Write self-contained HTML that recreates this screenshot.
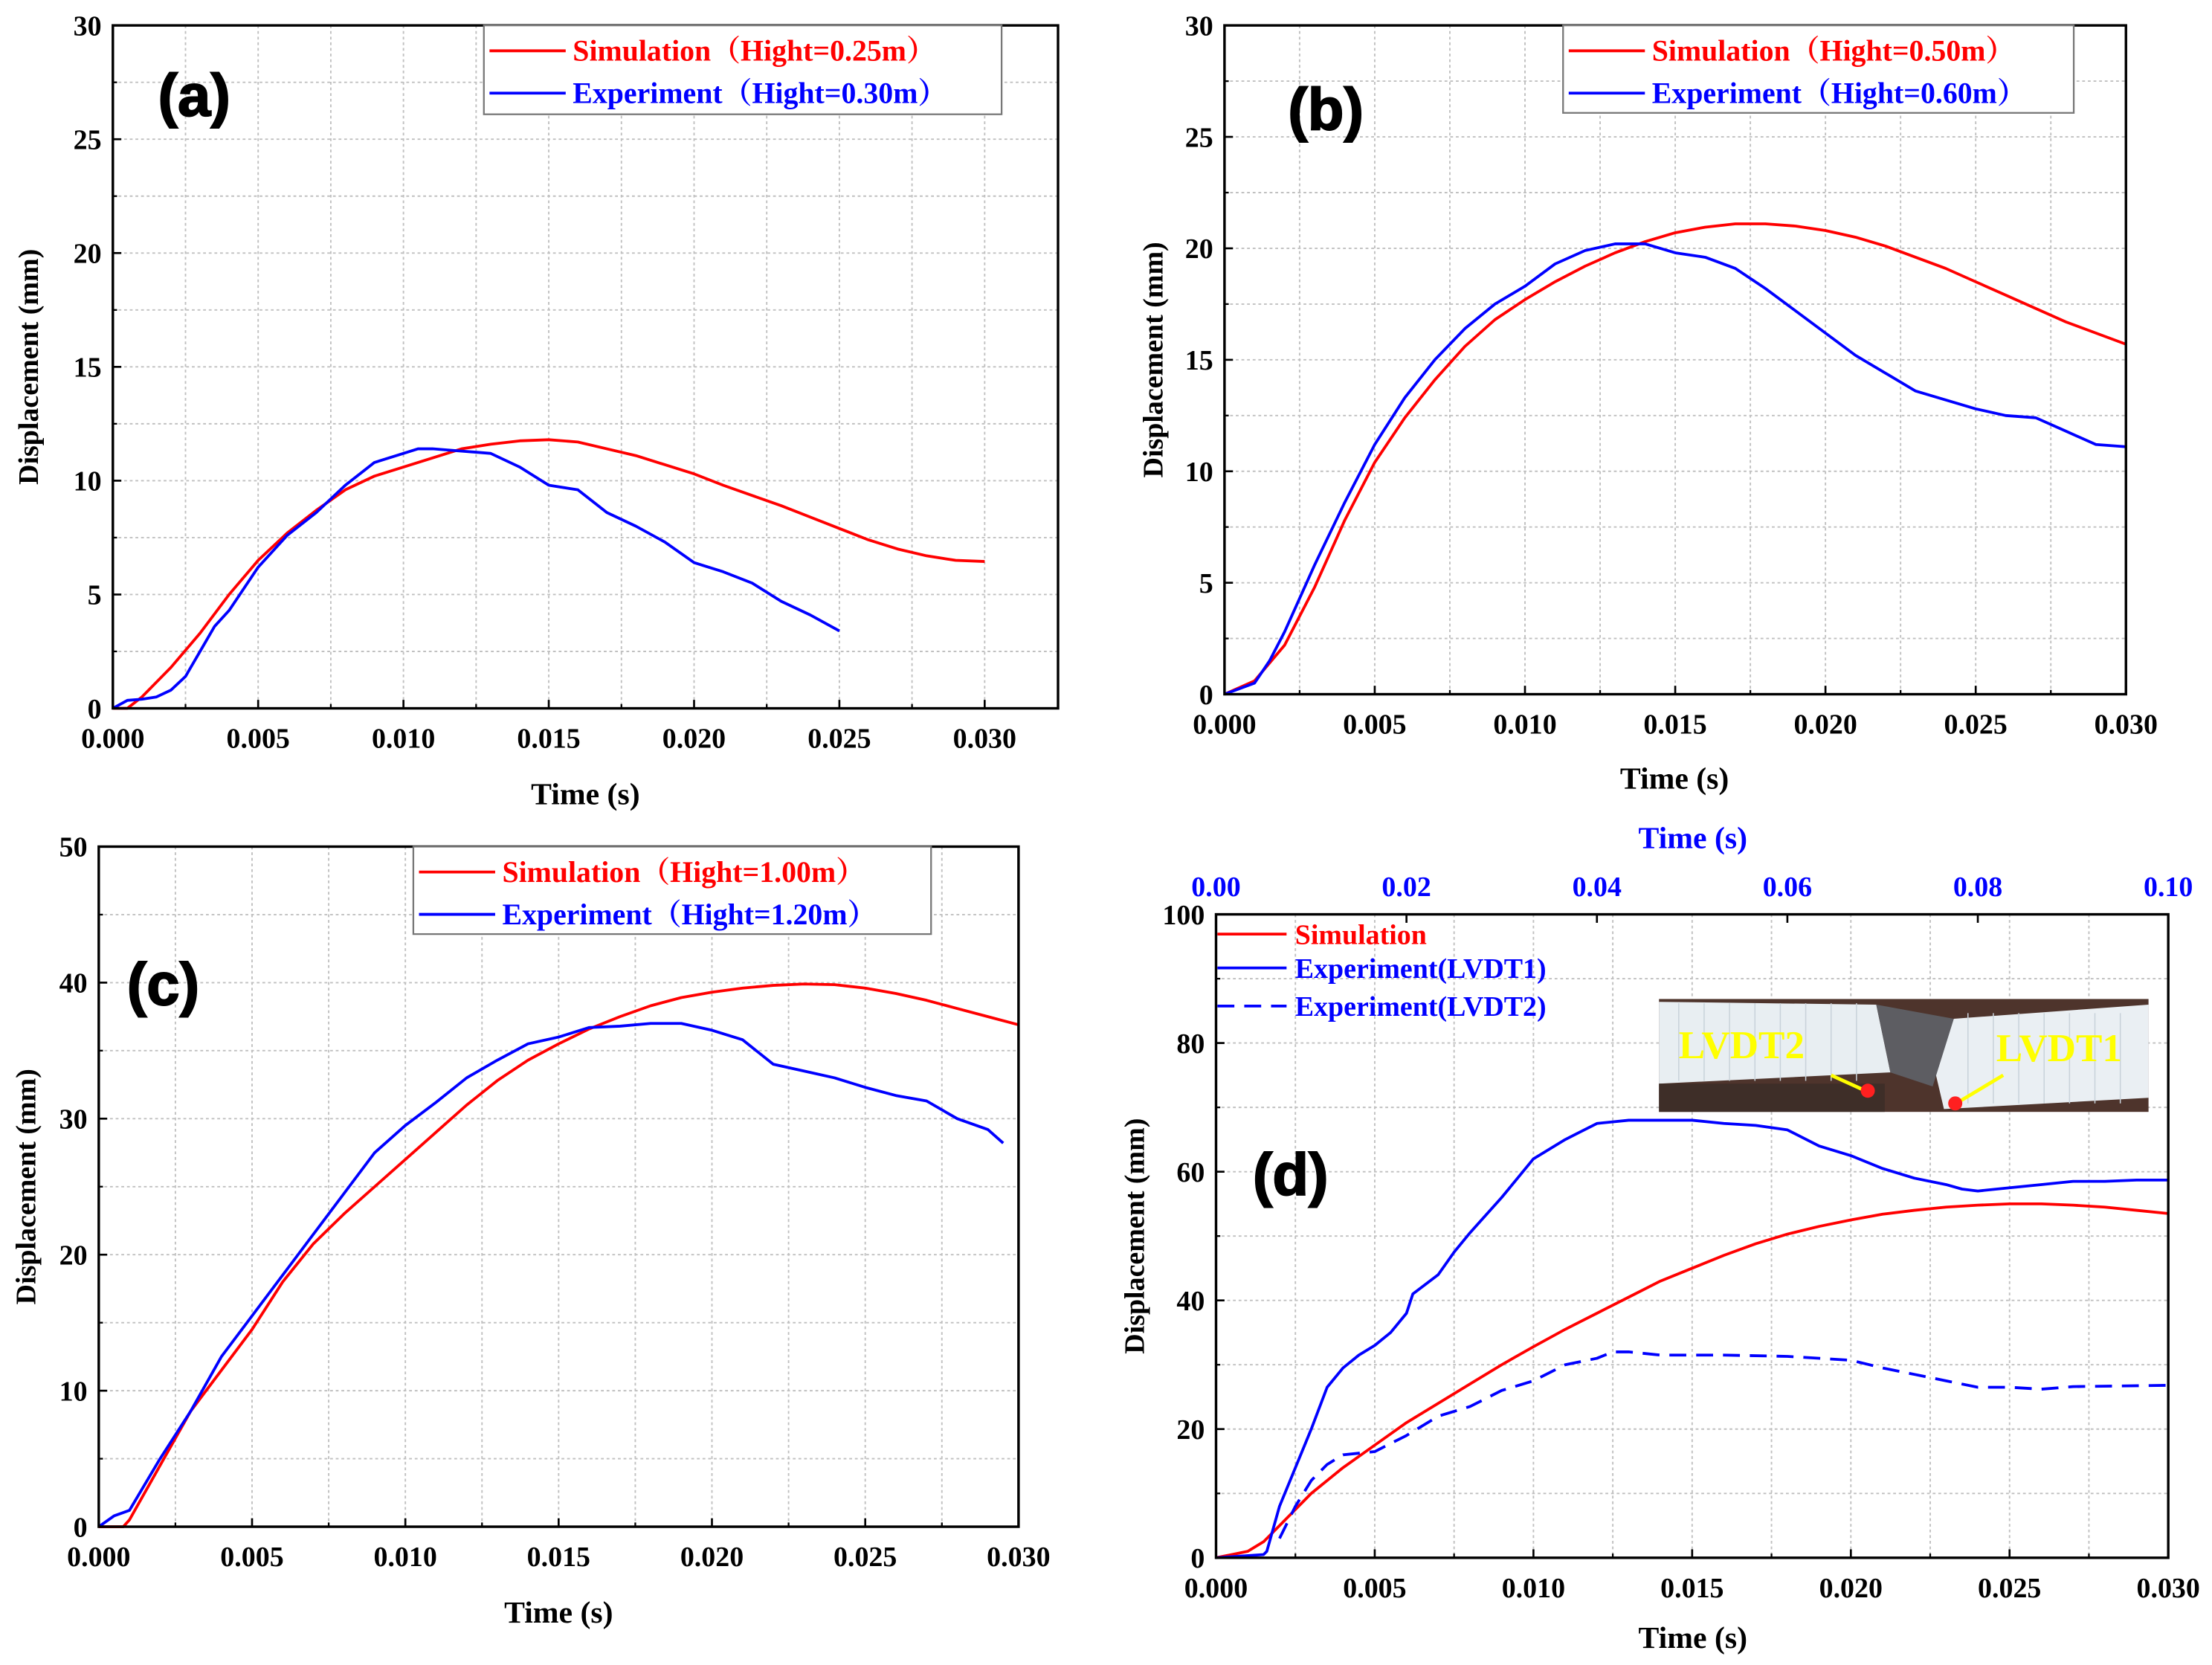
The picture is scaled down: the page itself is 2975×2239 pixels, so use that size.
<!DOCTYPE html>
<html><head><meta charset="utf-8">
<style>
html,body{margin:0;padding:0;background:#fff;}
svg{display:block;}
text{font-family:"Liberation Serif",serif;font-weight:bold;}
</style></head>
<body>
<svg id="fig" width="2975" height="2239" viewBox="0 0 1568 1180" preserveAspectRatio="none" xmlns="http://www.w3.org/2000/svg"></svg>
<script>
// ---------- data ----------
const aSimT=[0,0.0005,0.001,0.002,0.003,0.004,0.005,0.006,0.007,0.008,0.009,0.010,0.011,0.012,0.013,0.014,0.015,0.016,0.017,0.018,0.019,0.020,0.021,0.022,0.023,0.024,0.025,0.026,0.027,0.028,0.029,0.030];
const aSimY=[0,0,0.5,1.8,3.3,5,6.5,7.7,8.7,9.6,10.2,10.6,11,11.4,11.6,11.75,11.8,11.7,11.4,11.1,10.7,10.3,9.8,9.35,8.9,8.4,7.9,7.4,7,6.7,6.5,6.45];
const aExpT=[0,0.0005,0.001,0.0015,0.002,0.0025,0.003,0.0035,0.004,0.005,0.006,0.007,0.008,0.009,0.010,0.0105,0.011,0.012,0.013,0.014,0.015,0.016,0.017,0.018,0.019,0.020,0.021,0.022,0.023,0.024,0.025];
const aExpY=[0,0.35,0.4,0.5,0.8,1.4,2.5,3.6,4.3,6.2,7.6,8.6,9.8,10.8,11.2,11.4,11.4,11.3,11.2,10.6,9.8,9.6,8.6,8.0,7.3,6.4,6.0,5.5,4.7,4.1,3.4];

const bSimT=[0,0.001,0.002,0.003,0.004,0.005,0.006,0.007,0.008,0.009,0.010,0.011,0.012,0.013,0.014,0.015,0.016,0.017,0.018,0.019,0.020,0.021,0.022,0.023,0.024,0.025,0.026,0.027,0.028,0.029,0.030];
const bSimY=[0,0.6,2.2,4.8,7.8,10.4,12.4,14.1,15.6,16.8,17.7,18.5,19.2,19.8,20.3,20.7,20.95,21.1,21.1,21.0,20.8,20.5,20.1,19.6,19.1,18.5,17.9,17.3,16.7,16.2,15.7];
const bExpT=[0,0.001,0.0015,0.002,0.003,0.004,0.005,0.006,0.007,0.008,0.009,0.010,0.011,0.012,0.013,0.014,0.015,0.016,0.017,0.018,0.019,0.020,0.021,0.022,0.023,0.024,0.025,0.026,0.027,0.028,0.029,0.030];
const bExpY=[0,0.5,1.5,2.8,5.8,8.6,11.2,13.3,15.0,16.4,17.5,18.3,19.3,19.9,20.2,20.2,19.8,19.6,19.1,18.2,17.2,16.2,15.2,14.4,13.6,13.2,12.8,12.5,12.4,11.8,11.2,11.1];

const cSimT=[0,0.0008,0.001,0.002,0.003,0.004,0.005,0.006,0.007,0.008,0.009,0.010,0.011,0.012,0.013,0.014,0.015,0.016,0.017,0.018,0.019,0.020,0.021,0.022,0.023,0.024,0.025,0.026,0.027,0.028,0.029,0.030];
const cSimY=[0,0,0.5,4.5,8.5,11.5,14.5,18,20.8,23,25,27,29,31,32.8,34.3,35.5,36.6,37.5,38.3,38.9,39.3,39.6,39.8,39.9,39.85,39.6,39.2,38.7,38.1,37.5,36.9];
const cExpT=[0,0.0005,0.001,0.002,0.003,0.004,0.005,0.006,0.007,0.008,0.009,0.010,0.011,0.012,0.013,0.014,0.015,0.016,0.017,0.018,0.019,0.020,0.021,0.022,0.023,0.024,0.025,0.026,0.027,0.028,0.029,0.0295];
const cExpY=[0,0.8,1.2,5,8.5,12.5,15.5,18.5,21.5,24.5,27.5,29.5,31.2,33,34.3,35.5,36,36.7,36.8,37,37,36.5,35.8,34,33.5,33,32.3,31.7,31.3,30,29.2,28.2];

const dSimT=[0,0.001,0.0015,0.002,0.003,0.004,0.005,0.006,0.007,0.008,0.009,0.010,0.011,0.012,0.013,0.014,0.015,0.016,0.017,0.018,0.019,0.020,0.021,0.022,0.023,0.024,0.025,0.026,0.027,0.028,0.029,0.030];
const dSimY=[0,1,2.5,5,10,14,17.5,21,24,27,30,32.8,35.5,38,40.5,43,45,47,48.8,50.3,51.5,52.5,53.4,54,54.5,54.8,55,55,54.8,54.5,54,53.5];
const dL1T=[0,0.0015,0.0016,0.002,0.0025,0.003,0.0035,0.004,0.0045,0.005,0.0055,0.006,0.0062,0.007,0.0075,0.008,0.009,0.0095,0.010,0.011,0.012,0.013,0.014,0.015,0.016,0.017,0.018,0.019,0.020,0.021,0.022,0.023,0.0235,0.024,0.025,0.026,0.027,0.028,0.029,0.030];
const dL1Y=[0,0.5,1,8,14,20,26.5,29.5,31.5,33,35,38,41,44,47.5,50.5,56,59,62,65,67.5,68,68,68,67.5,67.2,66.5,64,62.5,60.5,59,58,57.3,57,57.5,58,58.5,58.5,58.7,58.7];
const dL2T=[0.002,0.0025,0.003,0.0035,0.004,0.005,0.006,0.007,0.008,0.009,0.010,0.011,0.012,0.0125,0.013,0.014,0.016,0.018,0.020,0.021,0.022,0.023,0.024,0.025,0.026,0.027,0.030];
const dL2Y=[3,8,12,14.5,16,16.5,19,22,23.5,26,27.5,30,31,32,32,31.5,31.5,31.3,30.7,29.5,28.5,27.5,26.5,26.5,26.2,26.6,26.8];

const xTicks=["0.000","0.005","0.010","0.015","0.020","0.025","0.030"];
const yTicksA=["0","5","10","15","20","25","30"];
const yTicksC=["0","10","20","30","40","50"];
const yTicksD=["0","20","40","60","80","100"];
const topTicksD=["0.00","0.02","0.04","0.06","0.08","0.10"];

// ---------- drawing ----------
const NS="http://www.w3.org/2000/svg";
const svg=document.getElementById('fig');
function mk(tag,attrs,parent){const e=document.createElementNS(NS,tag);for(const k in attrs)e.setAttribute(k,attrs[k]);(parent||svg).appendChild(e);return e;}
function txt(s,attrs,parent){const e=mk('text',attrs,parent);e.textContent=s;return e;}

function panel(p){
  const g=mk('g',{});
  
  
  const sx=t=>p.x0+(t-0)/(p.xmax)*(p.x1-p.x0);
  const sy=v=>p.y0-(v/p.ymax)*(p.y0-p.yTop);
  const L=p.x0,R=p.right,T=p.yTop,B=p.y0;
  const nx=xTicks.length-1, ny=p.yTicks.length-1;
  for(let i=0;i<=nx*2;i++){const v=p.xmax*i/(nx*2);const x=sx(v);if(x<=L+1||x>=R-1)continue;
    const gl=mk('line',{x1:x,y1:T,x2:x,y2:B,stroke:'#c0c0c0','stroke-width':1,'stroke-dasharray':'2,2'},g);
    }
  for(let i=1;i<ny*2;i++){const v=p.ymax*i/(ny*2);const y=sy(v);
    const gl=mk('line',{x1:L,y1:y,x2:R,y2:y,stroke:'#c0c0c0','stroke-width':1,'stroke-dasharray':'2,2'},g);
    }
  p.series.forEach(s=>{
    const d=s.t.map((t,i)=>(i?'L':'M')+sx(t).toFixed(2)+','+sy(s.y[i]).toFixed(2)).join('');
    const path=mk('path',{d:d,fill:'none',stroke:s.color,'stroke-width':2,'stroke-linejoin':'round','stroke-dasharray':s.dash||'none'},g);
    
  });
  const fr=mk('rect',{x:L,y:T,width:R-L,height:B-T,fill:'none',stroke:'#000','stroke-width':1.8},g);
  
  xTicks.forEach((lab,i)=>{const v=p.xmax*i/nx;const x=sx(v);
    mk('line',{x1:x,y1:B,x2:x,y2:B-6,stroke:'#000','stroke-width':1.4},g);
    if(i<nx)mk('line',{x1:sx(v+p.xmax/nx/2),y1:B,x2:sx(v+p.xmax/nx/2),y2:B-3,stroke:'#000','stroke-width':1.2},g);
    const t=txt(lab,{x:x,y:B+28,'text-anchor':'middle','font-size':20,fill:'#000'},g);
    });
  p.yTicks.forEach((lab,i)=>{const v=p.ymax*i/ny;const y=sy(v);
    mk('line',{x1:L,y1:y,x2:L+6,y2:y,stroke:'#000','stroke-width':1.4},g);
    if(i<ny)mk('line',{x1:L,y1:sy(v+p.ymax/ny/2),x2:L+3,y2:sy(v+p.ymax/ny/2),stroke:'#000','stroke-width':1.2},g);
    const t=txt(lab,{x:L-8,y:y+7,'text-anchor':'end','font-size':20,fill:'#000'},g);
    });
  const xt=txt('Time (s)',{x:p.xlabX,y:p.xlabY,'text-anchor':'middle','font-size':22,fill:'#000'},g);
  
  const ylx=p.ylabX, yly=(T+B)/2;
  const yt=txt('Displacement (mm)',{x:ylx,y:yly,'text-anchor':'middle','font-size':20,fill:'#000',transform:`rotate(-90 ${ylx} ${yly})`},g);
  
  const pl=txt('('+p.id+')',{x:p.plX,y:p.plY,'font-size':42,fill:'#000',style:'font-family:"Liberation Sans",sans-serif;font-weight:900;stroke:#000;stroke-width:1'},g);
  
  if(p.legend){const lg=p.legend;
    const lb=mk('rect',{x:lg.x,y:lg.y,width:lg.w,height:lg.h,fill:'#fff',stroke:'#777','stroke-width':1.2},g);
    
    lg.items.forEach((it,i)=>{const yy=lg.y+18+i*30;
      mk('line',{x1:lg.x+4,y1:yy,x2:lg.x+58,y2:yy,stroke:it.color,'stroke-width':2},g);
      const t=txt(it.label,{x:lg.x+63,y:yy+7,'font-size':21,fill:it.color,style:'font-family:"Liberation Serif","Noto Serif CJK SC",serif'},g);
      });
  }
  return {g,sx,sy};
}

panel({id:'a',x0:80,x1:698,right:750,xmax:0.03,y0:502,yTop:18,ymax:30,yTicks:yTicksA,xlabX:415,xlabY:570,ylabX:27,plX:112,plY:82,
  series:[{t:aSimT,y:aSimY,color:'#ff0000',name:'simulation-line-a'},{t:aExpT,y:aExpY,color:'#0000ff',name:'experiment-line-a'}],
  legend:{x:343,y:18,w:367,h:63,items:[{color:'#ff0000',label:'Simulation（Hight=0.25m）'},{color:'#0000ff',label:'Experiment（Hight=0.30m）'}]}});
panel({id:'b',x0:868,x1:1507,right:1507,xmax:0.03,y0:492,yTop:18,ymax:30,yTicks:yTicksA,xlabX:1187,xlabY:559,ylabX:824,plX:913,plY:92,
  series:[{t:bSimT,y:bSimY,color:'#ff0000',name:'simulation-line-b'},{t:bExpT,y:bExpY,color:'#0000ff',name:'experiment-line-b'}],
  legend:{x:1108,y:18,w:362,h:62,items:[{color:'#ff0000',label:'Simulation（Hight=0.50m）'},{color:'#0000ff',label:'Experiment（Hight=0.60m）'}]}});
panel({id:'c',x0:70,x1:722,right:722,xmax:0.03,y0:1082,yTop:600,ymax:50,yTicks:yTicksC,xlabX:396,xlabY:1150,ylabX:25,plX:90,plY:712,
  series:[{t:cSimT,y:cSimY,color:'#ff0000',name:'simulation-line-c'},{t:cExpT,y:cExpY,color:'#0000ff',name:'experiment-line-c'}],
  legend:{x:293,y:600,w:367,h:62,items:[{color:'#ff0000',label:'Simulation（Hight=1.00m）'},{color:'#0000ff',label:'Experiment（Hight=1.20m）'}]}});
const D=panel({id:'d',x0:862,x1:1537,right:1537,xmax:0.03,y0:1104,yTop:648,ymax:100,yTicks:yTicksD,xlabX:1200,xlabY:1168,ylabX:811,plX:888,plY:847,
  series:[{t:dSimT,y:dSimY,color:'#ff0000',name:'simulation-line-d'},{t:dL1T,y:dL1Y,color:'#0000ff',name:'experiment-lvdt1-line'},{t:dL2T,y:dL2Y,color:'#0000ff',dash:'12,7',name:'experiment-lvdt2-line'}]});
topTicksD.forEach((lab,i)=>{const x=862+(1537-862)*i/(topTicksD.length-1);
  mk('line',{x1:x,y1:648,x2:x,y2:654,stroke:'#000','stroke-width':1.4});
  const t=txt(lab,{x:x,y:635,'text-anchor':'middle','font-size':20,fill:'#0000ff'});
  });
const tt=txt('Time (s)',{x:1200,y:601,'text-anchor':'middle','font-size':22,fill:'#0000ff'});

[{c:'#ff0000',l:'Simulation',d:'none'},{c:'#0000ff',l:'Experiment(LVDT1)',d:'none'},{c:'#0000ff',l:'Experiment(LVDT2)',d:'12,7'}].forEach((it,i)=>{
  const yy=[662,686,713][i];
  mk('line',{x1:863,y1:yy,x2:912,y2:yy,stroke:it.c,'stroke-width':2,'stroke-dasharray':it.d});
  const t=txt(it.l,{x:918,y:yy+7,'font-size':20,fill:it.c});
  });
// inset photo
const ph=mk('g',{});

mk('rect',{x:1176,y:708,width:347,height:80,fill:'#4e342c'},ph);
mk('polygon',{points:'1176,710 1330,712 1340,760 1176,768',fill:'#e8eef2'},ph);
mk('polygon',{points:'1385,722 1523,712 1523,778 1378,786 1370,752',fill:'#eaeff3'},ph);
for(let k=0;k<8;k++){mk('line',{x1:1190+k*18,y1:711,x2:1190+k*18,y2:766,stroke:'#c8d2da','stroke-width':0.8},ph);}
for(let k=0;k<7;k++){mk('line',{x1:1395+k*18,y1:718,x2:1395+k*18,y2:782,stroke:'#c8d2da','stroke-width':0.8},ph);}
mk('polygon',{points:'1330,712 1385,722 1370,770 1340,760',fill:'#5d5d62'},ph);
mk('rect',{x:1176,y:768,width:160,height:20,fill:'#3e2e28'},ph);
const l2=txt('LVDT2',{x:1190,y:750,'font-size':28,fill:'#ffff00'},ph);

const l1=txt('LVDT1',{x:1415,y:752,'font-size':28,fill:'#ffff00'},ph);

mk('line',{x1:1320,y1:772,x2:1298,y2:762,stroke:'#ffff00','stroke-width':2.5},ph);
mk('line',{x1:1390,y1:780,x2:1420,y2:762,stroke:'#ffff00','stroke-width':2.5},ph);
mk('circle',{cx:1324,cy:773,r:5,fill:'#ff2020'},ph);
mk('circle',{cx:1386,cy:782,r:5,fill:'#ff2020'},ph);
</script>
</body></html>
